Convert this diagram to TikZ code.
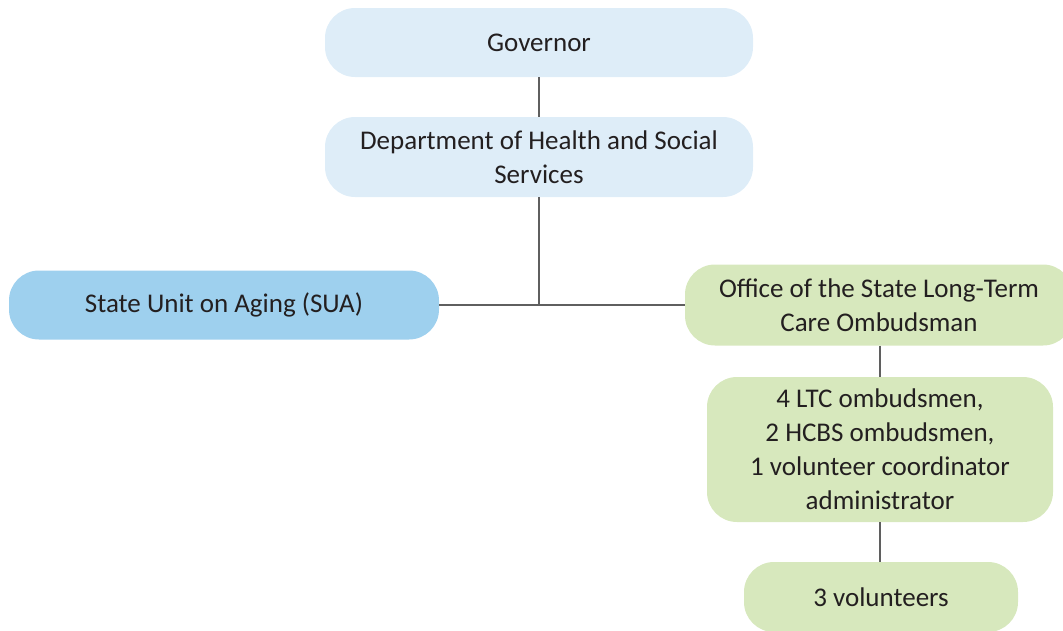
\documentclass[tikz,border=0pt]{standalone}
\usepackage{fontspec}
\setmainfont{Carlito}
\usepackage{xcolor}
\usepackage{tikz}
\definecolor{orgpale}{RGB}{222, 237, 248}
\definecolor{orgblue}{RGB}{158, 208, 238}
\definecolor{orggreen}{RGB}{215, 232, 189}
\definecolor{orgline}{RGB}{95, 95, 95}
\definecolor{orgtext}{RGB}{35, 31, 32}

\begin{document}
\begin{tikzpicture}[x=1pt, y=-1pt,
  box/.style={rounded corners=30pt, inner sep=0pt, align=center, text=orgtext,
    font=\fontsize{27}{34}\selectfont},
  link/.style={draw=orgline, line width=2.4pt}]
\useasboundingbox (0,0) rectangle (1063,630);
% Boxes
\node[box, fill=orgpale, minimum width=428pt, minimum height=69pt] (gov) at (539,42.5) {Governor};
\node[box, fill=orgpale, minimum width=428pt, minimum height=80pt] (dept) at (539,157) {Department of Health and Social\\Services};
\node[box, fill=orgblue, minimum width=430pt, minimum height=69pt] (sua) at (224,305) {State Unit on Aging (SUA)};
\node[box, fill=orggreen, minimum width=388pt, minimum height=81pt] (office) at (879,305) {Office of the State Long-Term\\Care Ombudsman};
\node[box, fill=orggreen, minimum width=346pt, minimum height=145pt] (staff) at (880,449.5) {4 LTC ombudsmen,\\2 HCBS ombudsmen,\\1 volunteer coordinator\\administrator};
\node[box, fill=orggreen, minimum width=274pt, minimum height=70pt] (vol) at (881,597) {3 volunteers};

% Connectors
\coordinate (hub) at (dept.south |- sua.east);
\draw[link] (gov) -- (dept);
\draw[link] (dept) -- (hub);
\draw[link] (sua) -- (office);
\draw[link] (office.south -| staff.north) -- (staff.north);
\draw[link] (staff.south) -- (staff.south |- vol.north);
\end{tikzpicture}
\end{document}
